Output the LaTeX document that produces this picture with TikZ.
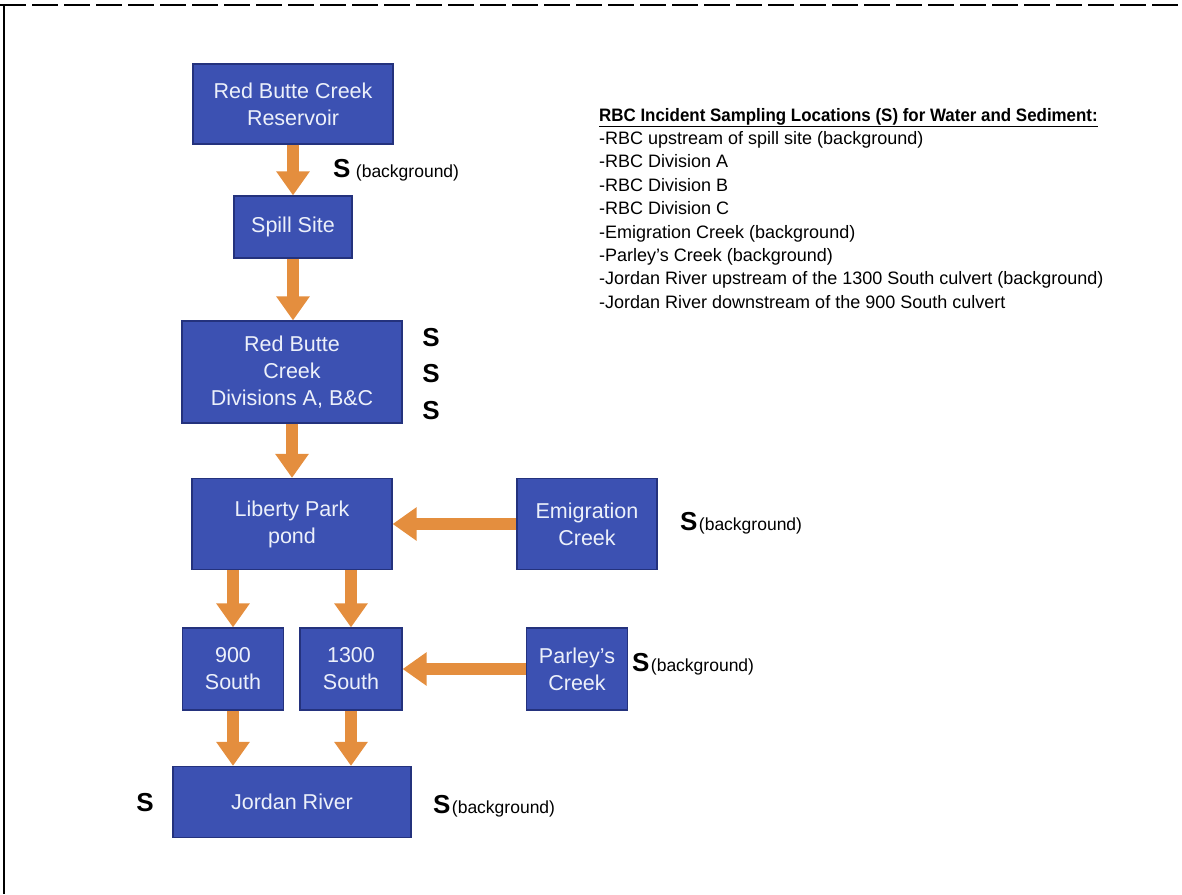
\documentclass[tikz,border=0pt]{standalone}
\usepackage{fontspec}
\setmainfont{Liberation Sans}
\newfontfamily\titlefont[FakeStretch=0.94]{Liberation Sans}
\usetikzlibrary{positioning,arrows.meta}
\definecolor{boxblue}{RGB}{60,81,178}
\definecolor{boxedge}{RGB}{36,50,125}
\definecolor{floworange}{RGB}{228,142,62}
\definecolor{boxtext}{RGB}{236,240,250}
\tikzset{bbox/.style={rectangle,draw=boxedge,line width=1.2pt,fill=boxblue,text=boxtext,align=center,inner sep=0pt,
	   font=\fontsize{21.5}{27}\selectfont},
	 flow/.style={draw=floworange,line width=12pt,-{Triangle[width=32pt,length=24pt]}},
	 smark/.style={inner sep=0pt,font=\fontsize{26}{26}\selectfont\bfseries},
	 snote/.style={inner sep=0pt,anchor=base west,font=\fontsize{17.5}{17.5}\selectfont},
	 legitem/.style={inner sep=0pt,anchor=base west,font=\fontsize{18}{18}\selectfont},
	 node distance = 1
	 }
\begin{document}
\begin{tikzpicture}[x=1pt,y=-1pt]% spill sampling flow
        \useasboundingbox (0,0) rectangle (1182,894);
        \draw[line width=2pt,dash pattern=on 26pt off 6pt] (0,5) -- (1182,5);
        \draw[line width=1.2pt] (4,5) -- (4,894);
        \node[bbox,minimum width=200pt,minimum height=80pt] (res) at (293,104) {Red Butte Creek\\Reservoir};
        \node[bbox,minimum width=118pt,minimum height=62pt] (spill) at (293,227) {Spill Site};
        \node[bbox,minimum width=220pt,minimum height=102pt] (divs) at (292,372) {Red Butte\\Creek\\Divisions A, B\&C};
        \node[bbox,minimum width=200pt,minimum height=91pt] (lpark) at (292,524) {Liberty Park\\pond};
        \node[bbox,minimum width=140pt,minimum height=91pt] (emig) at (587,524) {Emigration\\Creek};
        \node[bbox,minimum width=101pt,minimum height=82pt] (s900) at (233,669) {900\\South};
        \node[bbox,minimum width=102pt,minimum height=82pt] (s1300) at (351,669) {1300\\South};
        \node[bbox,minimum width=101pt,minimum height=82pt] (parley) at (577,669) {Parley's\\Creek};
        \node[bbox,minimum width=238pt,minimum height=71pt] (jordan) at (292,802) {Jordan River};
        \draw[flow] (res.south) -- (res.south |- spill.north);
        \draw[flow] (spill.south) -- (spill.south |- divs.north);
        \draw[flow] (divs.south) -- (divs.south |- lpark.north);
        \draw[flow] (lpark.south -| s900) -- (s900.north);
        \draw[flow] (lpark.south -| s1300) -- (s1300.north);
        \draw[flow] (emig.west) -- (lpark.east);
        \draw[flow] (parley.west) -- (s1300.east);
        \draw[flow] (s900.south) -- (s900.south |- jordan.north);
        \draw[flow] (s1300.south) -- (s1300.south |- jordan.north);
        % sampling marks
        \node[smark,anchor=base west] (sres) at (333,177) {S};
        \node[snote] (nres) at ([xshift=5pt]sres.base east) {(background)};
        \node[smark] (sdiva) at (431,338) {S};
        \node[smark] (sdivb) at (431,374) {S};
        \node[smark] (sdivc) at (431,411) {S};
        \node[smark,anchor=base west] (semig) at (680,530) {S};
        \node[snote] (nemig) at ([xshift=1pt]semig.base east) {(background)};
        \node[smark,anchor=base west] (sparl) at (632,671) {S};
        \node[snote] (nparl) at ([xshift=1pt]sparl.base east) {(background)};
        \node[smark,anchor=base west] (sjorr) at (433,813) {S};
        \node[snote] (njorr) at ([xshift=1pt]sjorr.base east) {(background)};
        \node[smark] (sjorl) at (145,803) {S};
        % legend
        \node[legitem,font=\fontsize{18}{18}\selectfont\titlefont\bfseries] (legtitle) at (599,121)
          {\underline{RBC Incident Sampling Locations (S) for Water and Sediment:}};
        \foreach \txt [count=\i] in {-RBC upstream of spill site (background),
            -RBC Division A, -RBC Division B, -RBC Division C,
            -Emigration Creek (background), -Parley's Creek (background),
            -Jordan River upstream of the 1300 South culvert (background),
            -Jordan River downstream of the 900 South culvert}
          \node[legitem] (leg\i) at (599,121+23.4*\i) {\txt};
\end{tikzpicture}
\end{document}
